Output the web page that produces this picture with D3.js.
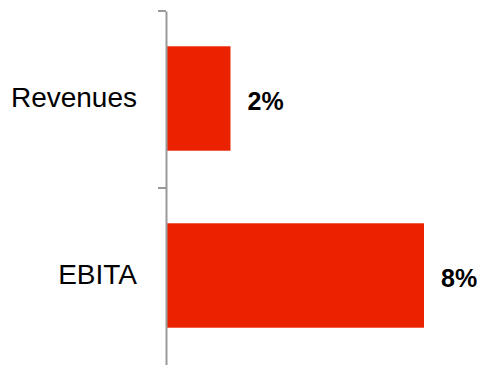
<!DOCTYPE html>
<html>
<head>
<meta charset="utf-8">
<script src="https://cdn.jsdelivr.net/npm/d3@7"></script>
<style>
  body { margin: 0; background: #fff; }
  svg { display: block; font-family: "Liberation Sans", Arial, sans-serif; }
  .axis path, .axis line { stroke: #999; stroke-width: 2px; }
  .axis text { font-size: 28px; fill: #000; }
  .value { font-size: 25px; font-weight: bold; fill: #000; }
</style>
</head>
<body>
<div id="chart"></div>
<script>
  // Data
  var categories = ["Revenues", "EBITA"];
  var growth = [0.02, 0.08];

  var width = 481, height = 365;
  var axisX = 166;

  var svg = d3.select("#chart").append("svg")
    .attr("width", width)
    .attr("height", height);

  // One band per category, axis ticks sit on the band edges
  var y = d3.scaleBand()
    .domain(categories)
    .range([11, 365])
    .padding(0);

  var x = d3.scaleLinear()
    .domain([0, 0.08])
    .range([axisX, 424]);

  var barFrac = 0.59;
  var barH = y.bandwidth() * barFrac;

  var scenes = categories.map(function(c, i) {
    return { category: c, value: growth[i] };
  });

  // Bars
  svg.selectAll(".bar")
    .data(scenes)
    .enter().append("rect")
    .attr("class", "bar")
    .attr("fill", "#ea2200")
    .attr("x", x(0))
    .attr("y", function(d) { return y(d.category) + (y.bandwidth() - barH) / 2 - 1; })
    .attr("width", function(d) { return x(d.value) - x(0); })
    .attr("height", barH);

  // Category axis
  var axis = svg.append("g")
    .attr("class", "axis")
    .attr("transform", "translate(" + axisX + ",0)")
    .call(d3.axisLeft(y).tickSize(0).tickPadding(29));

  axis.selectAll(".tick text").attr("dy", "0.28em");

  // boundary ticks at the start of each category band
  var edges = categories.map(function(c) { return y(c); });
  axis.selectAll(".edge")
    .data(edges)
    .enter().append("line")
    .attr("class", "edge")
    .attr("x1", -8)
    .attr("x2", 0)
    .attr("y1", function(d) { return d; })
    .attr("y2", function(d) { return d; });

  // Value labels
  var fmt = d3.format(".0%");
  svg.selectAll(".value")
    .data(scenes)
    .enter().append("text")
    .attr("class", "value")
    .attr("x", function(d) { return x(d.value) + 17; })
    .attr("y", function(d) { return y(d.category) + y.bandwidth() / 2 + 2; })
    .attr("dy", "0.35em")
    .text(function(d) { return fmt(d.value); });
</script>
</body>
</html>
